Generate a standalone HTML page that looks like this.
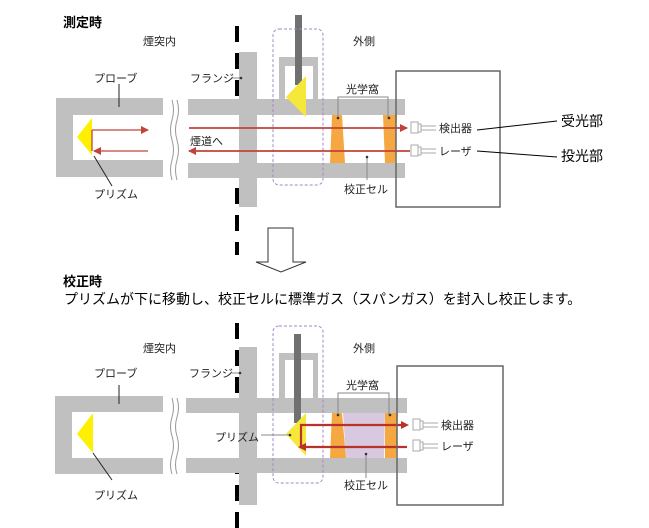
<!DOCTYPE html>
<html><head><meta charset="utf-8"><style>
html,body{margin:0;padding:0;background:#fff;}
svg{display:block;}
text{font-family:"Liberation Sans","Noto Sans CJK JP",sans-serif;fill:#222;}
</style></head><body>
<svg width="649" height="528" viewBox="0 0 649 528" xmlns="http://www.w3.org/2000/svg">
<defs>
<marker id="ah" markerWidth="8" markerHeight="8" refX="7" refY="4" orient="auto" markerUnits="userSpaceOnUse"><path d="M0,0 L8,4 L0,8 z" fill="#c0443a"/></marker>
</defs>
<!-- wall dashes -->
<line x1="237" y1="26" x2="237" y2="528" stroke="#000" stroke-width="4" stroke-dasharray="16 11"/>
<rect x="230" y="115" width="15" height="48" fill="#fff"/>
<rect x="230" y="413" width="15" height="45" fill="#fff"/>
<rect x="230" y="255" width="15" height="68" fill="#fff"/>

<text x="63" y="27" font-size="13" font-weight="bold" style="fill:#000">測定時</text>
<text x="143" y="45" font-size="11">煙突内</text>
<text x="353" y="45" font-size="11">外側</text>

<!-- ===== Diagram 1 ===== -->
<g fill="#c0c0c0">
<rect x="56" y="98" width="107" height="17"/>
<rect x="56" y="160" width="107" height="17"/>
<rect x="56" y="98" width="17" height="79"/>
<rect x="188" y="99" width="217" height="16"/>
<rect x="188" y="163" width="217" height="15"/>
<rect x="239" y="52" width="18" height="155"/>
<path d="M279,57 H318 V108 H313 V66 H285 V108 H279 Z"/>
</g>
<path d="M172,100 q3,10 0,20 q-3,10 0,20 q3,10 0,20 q-3,10 0,20 M177,100 q3,10 0,20 q-3,10 0,20 q3,10 0,20 q-3,10 0,20" fill="none" stroke="#999" stroke-width="1"/>
<rect x="295" y="15" width="7" height="70" fill="#707070"/>
<polygon points="306,76 286,97 306,117" fill="#f6e83a"/>
<rect x="273" y="29" width="50" height="156" rx="6" fill="none" stroke="#a28ac0" stroke-width="1" stroke-dasharray="3 2"/>
<polygon points="332,115 342,115 345,163 330,163" fill="#f5a742"/>
<polygon points="383,115 397,115 395,163 385,163" fill="#f5a742"/>
<polygon points="92,118 77,137 92,155" fill="#ffef00"/>
<g stroke="#c0443a" stroke-width="1.3" fill="none">
<line x1="92" y1="130" x2="148" y2="130" marker-end="url(#ah)"/>
<line x1="92" y1="130" x2="92" y2="151"/>
<line x1="148" y1="151" x2="94" y2="151" marker-end="url(#ah)"/>
<line x1="189" y1="128" x2="407" y2="128" stroke-width="1.8" marker-end="url(#ah)"/>
<line x1="410" y1="151" x2="189" y2="151" stroke-width="1.8" marker-end="url(#ah)"/>
</g>
<rect x="396" y="71" width="104" height="136" fill="none" stroke="#666" stroke-width="1.5"/>
<g fill="#fff" stroke="#aaa" stroke-width="1">
<rect x="411" y="122" width="7" height="11"/><rect x="418" y="124" width="3" height="8"/><line x1="421" y1="126" x2="436" y2="126"/><line x1="421" y1="130" x2="436" y2="130"/>
<rect x="411" y="145" width="7" height="11"/><rect x="418" y="147" width="3" height="8"/><line x1="421" y1="149" x2="436" y2="149"/><line x1="421" y1="153" x2="436" y2="153"/>
</g>
<text x="439" y="132" font-size="11">検出器</text>
<text x="439" y="155" font-size="11">レーザ</text>
<line x1="477" y1="130" x2="557" y2="121" stroke="#000" stroke-width="1"/>
<line x1="477" y1="151" x2="557" y2="157" stroke="#000" stroke-width="1"/>
<text x="561" y="126" font-size="14" style="fill:#000">受光部</text>
<text x="561" y="161" font-size="14" style="fill:#000">投光部</text>
<text x="94" y="82" font-size="11">プローブ</text>
<line x1="119" y1="84" x2="119" y2="107" stroke="#222"/>
<text x="94" y="198" font-size="11">プリズム</text>
<line x1="94" y1="156" x2="112" y2="186" stroke="#222"/>
<text x="190" y="82" font-size="11">フランジ</text>
<line x1="232" y1="78" x2="241" y2="78" stroke="#888"/><circle cx="241" cy="78" r="1.3" fill="#333"/>
<text x="346" y="93" font-size="11">光学窩</text>
<path d="M338,118 V97 H388 V118" fill="none" stroke="#888"/>
<circle cx="338" cy="118" r="1.3" fill="#333"/><circle cx="389" cy="118" r="1.3" fill="#333"/>
<text x="344" y="193" font-size="11">校正セル</text>
<line x1="367" y1="157" x2="367" y2="180" stroke="#888"/><circle cx="367" cy="157" r="1.3" fill="#333"/>
<text x="190" y="145" font-size="11">煙道へ</text>

<!-- down arrow -->
<path d="M268,228 H293 V262 H306 L281,272 L256,262 H268 Z" fill="#fff" stroke="#333" stroke-width="1"/>

<text x="63" y="286" font-size="13" font-weight="bold" style="fill:#000">校正時</text>
<text x="64" y="304" font-size="14" style="fill:#000">プリズムが下に移動し、校正セルに標準ガス（スパンガス）を封入し校正します。</text>

<!-- ===== Diagram 2 ===== -->
<text x="143" y="352" font-size="11">煙突内</text>
<text x="353" y="352" font-size="11">外側</text>
<g fill="#c0c0c0">
<rect x="55" y="396" width="108" height="16"/>
<rect x="55" y="458" width="108" height="16"/>
<rect x="55" y="396" width="17" height="78"/>
<rect x="186" y="398" width="221" height="15"/>
<rect x="186" y="458" width="221" height="15"/>
<rect x="239" y="347" width="18" height="158"/>
<path d="M279,353 H318 V405 H313 V360 H285 V405 H279 Z"/>
</g>
<path d="M172,398 q3,10 0,19 q-3,10 0,19 q3,10 0,19 q-3,10 0,19 M177,398 q3,10 0,19 q-3,10 0,19 q3,10 0,19 q-3,10 0,19" fill="none" stroke="#999" stroke-width="1"/>
<rect x="294" y="334" width="7" height="89" fill="#707070"/>
<polygon points="343,413 385,413 384,458 346,458" fill="#d9c9e0"/>
<polygon points="332,413 342,413 346,458 330,458" fill="#f5a742"/>
<polygon points="385,413 398,413 396,458 385,458" fill="#f5a742"/>
<polygon points="306,413 286,434 306,456" fill="#f6e83a"/>
<rect x="273" y="326" width="50" height="157" rx="6" fill="none" stroke="#a28ac0" stroke-width="1" stroke-dasharray="3 2"/>
<polygon points="93,413 77,434 93,453" fill="#ffef00"/>
<g stroke="#b8322a" stroke-width="2.2" fill="none">
<polyline points="407,447 301,447 301,425 405,425"/>
<path d="M401,421 L409,425 L401,429" fill="#b8322a" stroke="none"/>
<path d="M306,443 L298,447 L306,451" fill="#b8322a" stroke="none"/>
</g>
<rect x="397" y="366" width="106" height="139" fill="none" stroke="#666" stroke-width="1.5"/>
<g fill="#fff" stroke="#aaa" stroke-width="1">
<rect x="413" y="419" width="7" height="11"/><rect x="420" y="421" width="3" height="8"/><line x1="423" y1="423" x2="438" y2="423"/><line x1="423" y1="427" x2="438" y2="427"/>
<rect x="413" y="440" width="7" height="11"/><rect x="420" y="442" width="3" height="8"/><line x1="423" y1="444" x2="438" y2="444"/><line x1="423" y1="448" x2="438" y2="448"/>
</g>
<text x="441" y="429" font-size="11">検出器</text>
<text x="441" y="450" font-size="11">レーザ</text>
<text x="94" y="377" font-size="11">プローブ</text>
<line x1="119" y1="385" x2="119" y2="404" stroke="#222"/>
<text x="94" y="499" font-size="11">プリズム</text>
<line x1="93" y1="453" x2="112" y2="480" stroke="#222"/>
<text x="189" y="377" font-size="11">フランジ</text>
<line x1="232" y1="373" x2="240" y2="373" stroke="#888"/><circle cx="240" cy="373" r="1.3" fill="#333"/>
<text x="215" y="441" font-size="11">プリズム</text>
<line x1="261" y1="435" x2="290" y2="435" stroke="#888"/><circle cx="290" cy="435" r="1.3" fill="#333"/>
<text x="346" y="389" font-size="11">光学窩</text>
<path d="M338,415 V393 H389 V415" fill="none" stroke="#888"/>
<circle cx="338" cy="415" r="1.3" fill="#333"/><circle cx="390" cy="415" r="1.3" fill="#333"/>
<text x="344" y="489" font-size="11">校正セル</text>
<line x1="366" y1="454" x2="366" y2="478" stroke="#888"/><circle cx="366" cy="454" r="1.3" fill="#333"/>
</svg>
</body></html>
